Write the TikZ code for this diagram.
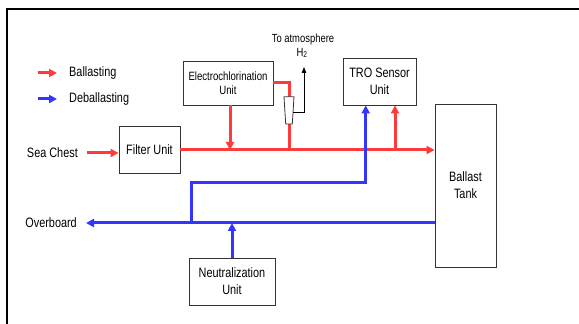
\documentclass[tikz,border=0pt]{standalone}
\usepackage{fontspec}
\setmainfont{Liberation Sans}[FakeStretch=0.8]
\usetikzlibrary{arrows.meta, positioning}
\definecolor{ballred}{RGB}{255,58,58}
\definecolor{deblue}{RGB}{52,52,255}

\begin{document}
\begin{tikzpicture}[x=1pt, y=1pt, >={Triangle[length=8pt,width=8pt]},
  every node/.style={font=\fontsize{13.6}{17}\selectfont},
  box/.style={draw=black!80, line width=0.8pt, align=center, inner sep=0pt},
  label/.style={inner sep=0pt},
  red line/.style={draw=ballred, line width=3pt},
  blue line/.style={draw=deblue, line width=3pt}]
  \useasboundingbox (0,0) rectangle (579,324);
  \draw[line width=1.6pt] (7,0) |- (579,315);

  % units
  \node[box, minimum width=90pt, minimum height=44pt, font=\fontsize{12}{14}\selectfont] (ecu) at (228,241) {Electrochlorination\\Unit};
  \node[box, minimum width=73pt, minimum height=47pt] (tro) at (379.5,242.5) {TRO Sensor\\Unit};
  \node[box, minimum width=61pt, minimum height=163pt] (tank) at (465.5,138.5) {Ballast\\Tank};
  \node[box, minimum width=61pt, minimum height=47pt] (filter) at (149.5,174) {Filter Unit};
  \node[box, minimum width=86pt, minimum height=47pt] (neut) at (232,42.5) {Neutralization\\Unit};

  % legend
  \node[label, anchor=west] (ballast) at (69,251) {Ballasting};
  \node[label, anchor=west] (deballast) at (69,225) {Deballasting};
  \coordinate (lr) at (38,251);
  \coordinate (lb) at (38,225);
  \draw[red line,->] (lr) -- ([xshift=-12pt]ballast.west);
  \draw[blue line,->] (lb) -- ([xshift=-12pt]deballast.west);

  % ballasting
  \node[label, anchor=east] (sea) at (78,171) {Sea Chest};
  \draw[red line,->] ([xshift=9pt]sea.east) -- (sea.east -| filter.west);
  \draw[red line,->] (filter.east) -- (filter.east -| tank.west);
  \draw[red line,->] ([xshift=2pt]ecu.south) -- ([xshift=2pt]ecu.south |- filter.east);
  \draw[red line,->] ([xshift=15.5pt]tro.south |- filter.east) -- ([xshift=15.5pt]tro.south);

  % hydrogen vent
  \coordinate (vent) at (289,200);
  \coordinate (atm) at (304,257);
  \draw[red line] (ecu.east) -| ([yshift=27pt]vent);
  \draw[red line] (vent) -- (vent |- filter.east);
  \draw[black!80, line width=0.8pt, fill=white] (vent) ++(-3.3,0) -- ++(6.6,0) -- ++(1.7,27.3) -- ++(-10,0) -- cycle;
  \draw[line width=0.9pt, ->, >={Triangle[length=6pt,width=4.5pt]}] ([xshift=4pt,yshift=12pt]vent) -| (atm);
  \node[font=\fontsize{11.8}{13}\selectfont] (toatm) at (303,285) {To atmosphere};
  \node[font=\fontsize{11.8}{13}\selectfont] (htwo) at (302,271) {H\textsubscript{2}};

  % deballasting
  \node[label, anchor=east] (over) at (77,101) {Overboard};
  \coordinate (tap) at (191.7,101);
  \coordinate (bend) at (365.7,141.7);
  \draw[blue line,->] (tank.west |- tap) -- ([xshift=9pt]over.east);
  \draw[blue line,->] (tap) |- (bend) -- (bend |- tro.south);
  \draw[blue line,->] (neut.north) -- (neut.north |- tap);
\end{tikzpicture}
\end{document}
